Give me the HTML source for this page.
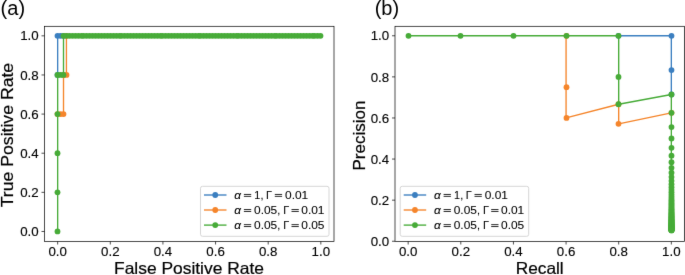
<!DOCTYPE html>
<html><head><meta charset="utf-8"><style>
html,body{margin:0;padding:0;background:#fff;}
svg{display:block;will-change:transform;}
text{font-family:"Liberation Sans", sans-serif;fill:#000;stroke:#000;stroke-width:0.2px;}
.lg text{stroke-width:0.08px;}
.tk text{stroke-width:0.12px;}
.pl{stroke-width:0;}
</style></head><body>
<svg width="685" height="275" viewBox="0 0 685 275">
<defs><filter id="bl" x="0" y="0" width="685" height="275" filterUnits="userSpaceOnUse" color-interpolation-filters="sRGB"><feConvolveMatrix order="3" kernelMatrix="0.00524 0.06192 0.00524 0.06192 0.73137 0.06192 0.00524 0.06192 0.00524" divisor="1" edgeMode="duplicate" preserveAlpha="true"/></filter></defs>
<g filter="url(#bl)">
<rect width="685" height="275" fill="#fff"/>
<text class="pl" x="0.6" y="14.5" font-size="20">(a)</text>
<text class="pl" x="374.7" y="14.5" font-size="20">(b)</text>
<g clip-path="url(#ca)">
<polyline points="57.66,74.96 57.66,35.83 60.58,35.83 63.51,35.83" fill="none" stroke="#3b7fc0" stroke-width="1.35" stroke-linejoin="round" stroke-linecap="butt"/>
<circle cx="57.50" cy="74.96" r="2.9" fill="#3b7fc0"/>
<circle cx="57.50" cy="35.83" r="2.9" fill="#3b7fc0"/>
<circle cx="60.50" cy="35.83" r="2.9" fill="#3b7fc0"/>
<circle cx="63.50" cy="35.83" r="2.9" fill="#3b7fc0"/>
<polyline points="57.66,114.09 60.58,114.09 63.51,114.09 63.51,74.96 66.43,74.96 66.43,35.83" fill="none" stroke="#f5852b" stroke-width="1.35" stroke-linejoin="round" stroke-linecap="butt"/>
<circle cx="57.50" cy="114.09" r="2.9" fill="#f5852b"/>
<circle cx="60.50" cy="114.09" r="2.9" fill="#f5852b"/>
<circle cx="63.50" cy="114.09" r="2.9" fill="#f5852b"/>
<circle cx="63.50" cy="74.96" r="2.9" fill="#f5852b"/>
<circle cx="66.50" cy="74.96" r="2.9" fill="#f5852b"/>
<circle cx="66.50" cy="35.83" r="2.9" fill="#f5852b"/>
<polyline points="57.66,231.47 57.66,192.34 57.66,153.21 57.66,114.09 57.66,74.96 60.58,74.96 63.51,74.96 63.51,35.83 66.43,35.83 69.36,35.83 72.28,35.83 75.20,35.83 78.13,35.83 81.05,35.83 83.98,35.83 86.90,35.83 89.83,35.83 92.75,35.83 95.67,35.83 98.60,35.83 101.52,35.83 104.45,35.83 107.37,35.83 110.30,35.83 113.22,35.83 116.14,35.83 119.07,35.83 121.99,35.83 124.92,35.83 127.84,35.83 130.77,35.83 133.69,35.83 136.61,35.83 139.54,35.83 142.46,35.83 145.39,35.83 148.31,35.83 151.23,35.83 154.16,35.83 157.08,35.83 160.01,35.83 162.93,35.83 165.86,35.83 168.78,35.83 171.70,35.83 174.63,35.83 177.55,35.83 180.48,35.83 183.40,35.83 186.33,35.83 189.25,35.83 192.17,35.83 195.10,35.83 198.02,35.83 200.95,35.83 203.87,35.83 206.80,35.83 209.72,35.83 212.64,35.83 215.57,35.83 218.49,35.83 221.42,35.83 224.34,35.83 227.27,35.83 230.19,35.83 233.11,35.83 236.04,35.83 238.96,35.83 241.89,35.83 244.81,35.83 247.73,35.83 250.66,35.83 253.58,35.83 256.51,35.83 259.43,35.83 262.36,35.83 265.28,35.83 268.20,35.83 271.13,35.83 274.05,35.83 276.98,35.83 279.90,35.83 282.83,35.83 285.75,35.83 288.67,35.83 291.60,35.83 294.52,35.83 297.45,35.83 300.37,35.83 303.30,35.83 306.22,35.83 309.14,35.83 312.07,35.83 314.99,35.83 317.92,35.83 320.84,35.83" fill="none" stroke="#47ab38" stroke-width="1.35" stroke-linejoin="round" stroke-linecap="butt"/>
<circle cx="57.50" cy="231.47" r="2.9" fill="#47ab38"/>
<circle cx="57.50" cy="192.34" r="2.9" fill="#47ab38"/>
<circle cx="57.50" cy="153.21" r="2.9" fill="#47ab38"/>
<circle cx="57.50" cy="114.09" r="2.9" fill="#47ab38"/>
<circle cx="57.50" cy="74.96" r="2.9" fill="#47ab38"/>
<circle cx="60.50" cy="74.96" r="2.9" fill="#47ab38"/>
<circle cx="63.50" cy="74.96" r="2.9" fill="#47ab38"/>
<circle cx="63.50" cy="35.83" r="2.9" fill="#47ab38"/>
<circle cx="66.50" cy="35.83" r="2.9" fill="#47ab38"/>
<circle cx="69.50" cy="35.83" r="2.9" fill="#47ab38"/>
<circle cx="72.50" cy="35.83" r="2.9" fill="#47ab38"/>
<circle cx="75.50" cy="35.83" r="2.9" fill="#47ab38"/>
<circle cx="78.50" cy="35.83" r="2.9" fill="#47ab38"/>
<circle cx="81.50" cy="35.83" r="2.9" fill="#47ab38"/>
<circle cx="83.50" cy="35.83" r="2.9" fill="#47ab38"/>
<circle cx="86.50" cy="35.83" r="2.9" fill="#47ab38"/>
<circle cx="89.50" cy="35.83" r="2.9" fill="#47ab38"/>
<circle cx="92.50" cy="35.83" r="2.9" fill="#47ab38"/>
<circle cx="95.50" cy="35.83" r="2.9" fill="#47ab38"/>
<circle cx="98.50" cy="35.83" r="2.9" fill="#47ab38"/>
<circle cx="101.50" cy="35.83" r="2.9" fill="#47ab38"/>
<circle cx="104.50" cy="35.83" r="2.9" fill="#47ab38"/>
<circle cx="107.50" cy="35.83" r="2.9" fill="#47ab38"/>
<circle cx="110.50" cy="35.83" r="2.9" fill="#47ab38"/>
<circle cx="113.50" cy="35.83" r="2.9" fill="#47ab38"/>
<circle cx="116.50" cy="35.83" r="2.9" fill="#47ab38"/>
<circle cx="119.50" cy="35.83" r="2.9" fill="#47ab38"/>
<circle cx="121.50" cy="35.83" r="2.9" fill="#47ab38"/>
<circle cx="124.50" cy="35.83" r="2.9" fill="#47ab38"/>
<circle cx="127.50" cy="35.83" r="2.9" fill="#47ab38"/>
<circle cx="130.50" cy="35.83" r="2.9" fill="#47ab38"/>
<circle cx="133.50" cy="35.83" r="2.9" fill="#47ab38"/>
<circle cx="136.50" cy="35.83" r="2.9" fill="#47ab38"/>
<circle cx="139.50" cy="35.83" r="2.9" fill="#47ab38"/>
<circle cx="142.50" cy="35.83" r="2.9" fill="#47ab38"/>
<circle cx="145.50" cy="35.83" r="2.9" fill="#47ab38"/>
<circle cx="148.50" cy="35.83" r="2.9" fill="#47ab38"/>
<circle cx="151.50" cy="35.83" r="2.9" fill="#47ab38"/>
<circle cx="154.50" cy="35.83" r="2.9" fill="#47ab38"/>
<circle cx="157.50" cy="35.83" r="2.9" fill="#47ab38"/>
<circle cx="160.50" cy="35.83" r="2.9" fill="#47ab38"/>
<circle cx="162.50" cy="35.83" r="2.9" fill="#47ab38"/>
<circle cx="165.50" cy="35.83" r="2.9" fill="#47ab38"/>
<circle cx="168.50" cy="35.83" r="2.9" fill="#47ab38"/>
<circle cx="171.50" cy="35.83" r="2.9" fill="#47ab38"/>
<circle cx="174.50" cy="35.83" r="2.9" fill="#47ab38"/>
<circle cx="177.50" cy="35.83" r="2.9" fill="#47ab38"/>
<circle cx="180.50" cy="35.83" r="2.9" fill="#47ab38"/>
<circle cx="183.50" cy="35.83" r="2.9" fill="#47ab38"/>
<circle cx="186.50" cy="35.83" r="2.9" fill="#47ab38"/>
<circle cx="189.50" cy="35.83" r="2.9" fill="#47ab38"/>
<circle cx="192.50" cy="35.83" r="2.9" fill="#47ab38"/>
<circle cx="195.50" cy="35.83" r="2.9" fill="#47ab38"/>
<circle cx="198.50" cy="35.83" r="2.9" fill="#47ab38"/>
<circle cx="200.50" cy="35.83" r="2.9" fill="#47ab38"/>
<circle cx="203.50" cy="35.83" r="2.9" fill="#47ab38"/>
<circle cx="206.50" cy="35.83" r="2.9" fill="#47ab38"/>
<circle cx="209.50" cy="35.83" r="2.9" fill="#47ab38"/>
<circle cx="212.50" cy="35.83" r="2.9" fill="#47ab38"/>
<circle cx="215.50" cy="35.83" r="2.9" fill="#47ab38"/>
<circle cx="218.50" cy="35.83" r="2.9" fill="#47ab38"/>
<circle cx="221.50" cy="35.83" r="2.9" fill="#47ab38"/>
<circle cx="224.50" cy="35.83" r="2.9" fill="#47ab38"/>
<circle cx="227.50" cy="35.83" r="2.9" fill="#47ab38"/>
<circle cx="230.50" cy="35.83" r="2.9" fill="#47ab38"/>
<circle cx="233.50" cy="35.83" r="2.9" fill="#47ab38"/>
<circle cx="236.50" cy="35.83" r="2.9" fill="#47ab38"/>
<circle cx="238.50" cy="35.83" r="2.9" fill="#47ab38"/>
<circle cx="241.50" cy="35.83" r="2.9" fill="#47ab38"/>
<circle cx="244.50" cy="35.83" r="2.9" fill="#47ab38"/>
<circle cx="247.50" cy="35.83" r="2.9" fill="#47ab38"/>
<circle cx="250.50" cy="35.83" r="2.9" fill="#47ab38"/>
<circle cx="253.50" cy="35.83" r="2.9" fill="#47ab38"/>
<circle cx="256.50" cy="35.83" r="2.9" fill="#47ab38"/>
<circle cx="259.50" cy="35.83" r="2.9" fill="#47ab38"/>
<circle cx="262.50" cy="35.83" r="2.9" fill="#47ab38"/>
<circle cx="265.50" cy="35.83" r="2.9" fill="#47ab38"/>
<circle cx="268.50" cy="35.83" r="2.9" fill="#47ab38"/>
<circle cx="271.50" cy="35.83" r="2.9" fill="#47ab38"/>
<circle cx="274.50" cy="35.83" r="2.9" fill="#47ab38"/>
<circle cx="276.50" cy="35.83" r="2.9" fill="#47ab38"/>
<circle cx="279.50" cy="35.83" r="2.9" fill="#47ab38"/>
<circle cx="282.50" cy="35.83" r="2.9" fill="#47ab38"/>
<circle cx="285.50" cy="35.83" r="2.9" fill="#47ab38"/>
<circle cx="288.50" cy="35.83" r="2.9" fill="#47ab38"/>
<circle cx="291.50" cy="35.83" r="2.9" fill="#47ab38"/>
<circle cx="294.50" cy="35.83" r="2.9" fill="#47ab38"/>
<circle cx="297.50" cy="35.83" r="2.9" fill="#47ab38"/>
<circle cx="300.50" cy="35.83" r="2.9" fill="#47ab38"/>
<circle cx="303.50" cy="35.83" r="2.9" fill="#47ab38"/>
<circle cx="306.50" cy="35.83" r="2.9" fill="#47ab38"/>
<circle cx="309.50" cy="35.83" r="2.9" fill="#47ab38"/>
<circle cx="312.50" cy="35.83" r="2.9" fill="#47ab38"/>
<circle cx="314.50" cy="35.83" r="2.9" fill="#47ab38"/>
<circle cx="317.50" cy="35.83" r="2.9" fill="#47ab38"/>
<circle cx="320.50" cy="35.83" r="2.9" fill="#47ab38"/>
</g>
<g clip-path="url(#cb)">
<polyline points="618.70,35.78 671.34,35.78 671.34,70.03 671.34,94.49" fill="none" stroke="#3b7fc0" stroke-width="1.35" stroke-linejoin="round" stroke-linecap="butt"/>
<circle cx="618.50" cy="35.78" r="2.9" fill="#3b7fc0"/>
<circle cx="671.50" cy="35.78" r="2.9" fill="#3b7fc0"/>
<circle cx="671.50" cy="70.03" r="2.9" fill="#3b7fc0"/>
<circle cx="671.50" cy="94.49" r="2.9" fill="#3b7fc0"/>
<polyline points="566.07,35.78 566.07,87.15 566.07,117.97 618.70,104.27 618.70,123.84 671.34,112.83" fill="none" stroke="#f5852b" stroke-width="1.35" stroke-linejoin="round" stroke-linecap="butt"/>
<circle cx="566.50" cy="35.78" r="2.9" fill="#f5852b"/>
<circle cx="566.50" cy="87.15" r="2.9" fill="#f5852b"/>
<circle cx="566.50" cy="117.97" r="2.9" fill="#f5852b"/>
<circle cx="618.50" cy="104.27" r="2.9" fill="#f5852b"/>
<circle cx="618.50" cy="123.84" r="2.9" fill="#f5852b"/>
<circle cx="671.50" cy="112.83" r="2.9" fill="#f5852b"/>
<polyline points="408.16,35.78 460.80,35.78 513.43,35.78 566.07,35.78 618.70,35.78 618.70,76.88 618.70,104.27 671.34,94.49 671.34,112.83 671.34,127.10 671.34,138.52 671.34,147.86 671.34,155.64 671.34,162.22 671.34,167.87 671.34,172.76 671.34,177.04 671.34,180.82 671.34,184.18 671.34,187.18 671.34,189.88 671.34,192.33 671.34,194.55 671.34,196.58 671.34,198.44 671.34,200.16 671.34,201.74 671.34,203.20 671.34,204.56 671.34,205.82 671.34,207.01 671.34,208.11 671.34,209.15 671.34,210.12 671.34,211.03 671.34,211.90 671.34,212.71 671.34,213.48 671.34,214.21 671.34,214.91 671.34,215.57 671.34,216.19 671.34,216.79 671.34,217.36 671.34,217.90 671.34,218.42 671.34,218.92 671.34,219.39 671.34,219.85 671.34,220.28 671.34,220.70 671.34,221.11 671.34,221.49 671.34,221.87 671.34,222.23 671.34,222.57 671.34,222.90 671.34,223.23 671.34,223.54 671.34,223.84 671.34,224.13 671.34,224.41 671.34,224.68 671.34,224.94 671.34,225.20 671.34,225.44 671.34,225.68 671.34,225.92 671.34,226.14 671.34,226.36 671.34,226.57 671.34,226.78 671.34,226.98 671.34,227.18 671.34,227.37 671.34,227.55 671.34,227.73 671.34,227.91 671.34,228.08 671.34,228.25 671.34,228.41 671.34,228.57 671.34,228.72 671.34,228.87 671.34,229.02 671.34,229.16 671.34,229.30 671.34,229.44 671.34,229.58 671.34,229.71 671.34,229.84 671.34,229.96 671.34,230.08 671.34,230.20 671.34,230.32 671.34,230.44" fill="none" stroke="#47ab38" stroke-width="1.35" stroke-linejoin="round" stroke-linecap="butt"/>
<circle cx="408.50" cy="35.78" r="2.9" fill="#47ab38"/>
<circle cx="460.50" cy="35.78" r="2.9" fill="#47ab38"/>
<circle cx="513.50" cy="35.78" r="2.9" fill="#47ab38"/>
<circle cx="566.50" cy="35.78" r="2.9" fill="#47ab38"/>
<circle cx="618.50" cy="35.78" r="2.9" fill="#47ab38"/>
<circle cx="618.50" cy="76.88" r="2.9" fill="#47ab38"/>
<circle cx="618.50" cy="104.27" r="2.9" fill="#47ab38"/>
<circle cx="671.50" cy="94.49" r="2.9" fill="#47ab38"/>
<circle cx="671.50" cy="112.83" r="2.9" fill="#47ab38"/>
<circle cx="671.50" cy="127.10" r="2.9" fill="#47ab38"/>
<circle cx="671.50" cy="138.52" r="2.9" fill="#47ab38"/>
<circle cx="671.50" cy="147.86" r="2.9" fill="#47ab38"/>
<circle cx="671.50" cy="155.64" r="2.9" fill="#47ab38"/>
<circle cx="671.50" cy="162.22" r="2.9" fill="#47ab38"/>
<circle cx="671.50" cy="167.87" r="2.9" fill="#47ab38"/>
<circle cx="671.50" cy="172.76" r="2.9" fill="#47ab38"/>
<circle cx="671.50" cy="177.04" r="2.9" fill="#47ab38"/>
<circle cx="671.50" cy="180.82" r="2.9" fill="#47ab38"/>
<circle cx="671.50" cy="184.18" r="2.9" fill="#47ab38"/>
<circle cx="671.50" cy="187.18" r="2.9" fill="#47ab38"/>
<circle cx="671.50" cy="189.88" r="2.9" fill="#47ab38"/>
<circle cx="671.50" cy="192.33" r="2.9" fill="#47ab38"/>
<circle cx="671.50" cy="194.55" r="2.9" fill="#47ab38"/>
<circle cx="671.50" cy="196.58" r="2.9" fill="#47ab38"/>
<circle cx="671.50" cy="198.44" r="2.9" fill="#47ab38"/>
<circle cx="671.50" cy="200.16" r="2.9" fill="#47ab38"/>
<circle cx="671.50" cy="201.74" r="2.9" fill="#47ab38"/>
<circle cx="671.50" cy="203.20" r="2.9" fill="#47ab38"/>
<circle cx="671.50" cy="204.56" r="2.9" fill="#47ab38"/>
<circle cx="671.50" cy="205.82" r="2.9" fill="#47ab38"/>
<circle cx="671.50" cy="207.01" r="2.9" fill="#47ab38"/>
<circle cx="671.50" cy="208.11" r="2.9" fill="#47ab38"/>
<circle cx="671.50" cy="209.15" r="2.9" fill="#47ab38"/>
<circle cx="671.50" cy="210.12" r="2.9" fill="#47ab38"/>
<circle cx="671.50" cy="211.03" r="2.9" fill="#47ab38"/>
<circle cx="671.50" cy="211.90" r="2.9" fill="#47ab38"/>
<circle cx="671.50" cy="212.71" r="2.9" fill="#47ab38"/>
<circle cx="671.50" cy="213.48" r="2.9" fill="#47ab38"/>
<circle cx="671.50" cy="214.21" r="2.9" fill="#47ab38"/>
<circle cx="671.50" cy="214.91" r="2.9" fill="#47ab38"/>
<circle cx="671.50" cy="215.57" r="2.9" fill="#47ab38"/>
<circle cx="671.50" cy="216.19" r="2.9" fill="#47ab38"/>
<circle cx="671.50" cy="216.79" r="2.9" fill="#47ab38"/>
<circle cx="671.50" cy="217.36" r="2.9" fill="#47ab38"/>
<circle cx="671.50" cy="217.90" r="2.9" fill="#47ab38"/>
<circle cx="671.50" cy="218.42" r="2.9" fill="#47ab38"/>
<circle cx="671.50" cy="218.92" r="2.9" fill="#47ab38"/>
<circle cx="671.50" cy="219.39" r="2.9" fill="#47ab38"/>
<circle cx="671.50" cy="219.85" r="2.9" fill="#47ab38"/>
<circle cx="671.50" cy="220.28" r="2.9" fill="#47ab38"/>
<circle cx="671.50" cy="220.70" r="2.9" fill="#47ab38"/>
<circle cx="671.50" cy="221.11" r="2.9" fill="#47ab38"/>
<circle cx="671.50" cy="221.49" r="2.9" fill="#47ab38"/>
<circle cx="671.50" cy="221.87" r="2.9" fill="#47ab38"/>
<circle cx="671.50" cy="222.23" r="2.9" fill="#47ab38"/>
<circle cx="671.50" cy="222.57" r="2.9" fill="#47ab38"/>
<circle cx="671.50" cy="222.90" r="2.9" fill="#47ab38"/>
<circle cx="671.50" cy="223.23" r="2.9" fill="#47ab38"/>
<circle cx="671.50" cy="223.54" r="2.9" fill="#47ab38"/>
<circle cx="671.50" cy="223.84" r="2.9" fill="#47ab38"/>
<circle cx="671.50" cy="224.13" r="2.9" fill="#47ab38"/>
<circle cx="671.50" cy="224.41" r="2.9" fill="#47ab38"/>
<circle cx="671.50" cy="224.68" r="2.9" fill="#47ab38"/>
<circle cx="671.50" cy="224.94" r="2.9" fill="#47ab38"/>
<circle cx="671.50" cy="225.20" r="2.9" fill="#47ab38"/>
<circle cx="671.50" cy="225.44" r="2.9" fill="#47ab38"/>
<circle cx="671.50" cy="225.68" r="2.9" fill="#47ab38"/>
<circle cx="671.50" cy="225.92" r="2.9" fill="#47ab38"/>
<circle cx="671.50" cy="226.14" r="2.9" fill="#47ab38"/>
<circle cx="671.50" cy="226.36" r="2.9" fill="#47ab38"/>
<circle cx="671.50" cy="226.57" r="2.9" fill="#47ab38"/>
<circle cx="671.50" cy="226.78" r="2.9" fill="#47ab38"/>
<circle cx="671.50" cy="226.98" r="2.9" fill="#47ab38"/>
<circle cx="671.50" cy="227.18" r="2.9" fill="#47ab38"/>
<circle cx="671.50" cy="227.37" r="2.9" fill="#47ab38"/>
<circle cx="671.50" cy="227.55" r="2.9" fill="#47ab38"/>
<circle cx="671.50" cy="227.73" r="2.9" fill="#47ab38"/>
<circle cx="671.50" cy="227.91" r="2.9" fill="#47ab38"/>
<circle cx="671.50" cy="228.08" r="2.9" fill="#47ab38"/>
<circle cx="671.50" cy="228.25" r="2.9" fill="#47ab38"/>
<circle cx="671.50" cy="228.41" r="2.9" fill="#47ab38"/>
<circle cx="671.50" cy="228.57" r="2.9" fill="#47ab38"/>
<circle cx="671.50" cy="228.72" r="2.9" fill="#47ab38"/>
<circle cx="671.50" cy="228.87" r="2.9" fill="#47ab38"/>
<circle cx="671.50" cy="229.02" r="2.9" fill="#47ab38"/>
<circle cx="671.50" cy="229.16" r="2.9" fill="#47ab38"/>
<circle cx="671.50" cy="229.30" r="2.9" fill="#47ab38"/>
<circle cx="671.50" cy="229.44" r="2.9" fill="#47ab38"/>
<circle cx="671.50" cy="229.58" r="2.9" fill="#47ab38"/>
<circle cx="671.50" cy="229.71" r="2.9" fill="#47ab38"/>
<circle cx="671.50" cy="229.84" r="2.9" fill="#47ab38"/>
<circle cx="671.50" cy="229.96" r="2.9" fill="#47ab38"/>
<circle cx="671.50" cy="230.08" r="2.9" fill="#47ab38"/>
<circle cx="671.50" cy="230.20" r="2.9" fill="#47ab38"/>
<circle cx="671.50" cy="230.32" r="2.9" fill="#47ab38"/>
<circle cx="671.50" cy="230.44" r="2.9" fill="#47ab38"/>
</g>
<defs>
<clipPath id="ca"><rect x="44.5" y="26.3" width="289.5" height="215.2"/></clipPath>
<clipPath id="cb"><rect x="395.0" y="26.3" width="289.5" height="215.2"/></clipPath>
</defs>
<rect x="44.50" y="26.30" width="289.50" height="215.20" fill="none" stroke="#000" stroke-width="0.7"/>
<line x1="57.66" y1="241.50" x2="57.66" y2="244.50" stroke="#000" stroke-width="0.7"/>
<line x1="41.50" y1="231.47" x2="44.50" y2="231.47" stroke="#000" stroke-width="0.7"/>
<line x1="110.30" y1="241.50" x2="110.30" y2="244.50" stroke="#000" stroke-width="0.7"/>
<line x1="41.50" y1="192.34" x2="44.50" y2="192.34" stroke="#000" stroke-width="0.7"/>
<line x1="162.93" y1="241.50" x2="162.93" y2="244.50" stroke="#000" stroke-width="0.7"/>
<line x1="41.50" y1="153.21" x2="44.50" y2="153.21" stroke="#000" stroke-width="0.7"/>
<line x1="215.57" y1="241.50" x2="215.57" y2="244.50" stroke="#000" stroke-width="0.7"/>
<line x1="41.50" y1="114.09" x2="44.50" y2="114.09" stroke="#000" stroke-width="0.7"/>
<line x1="268.20" y1="241.50" x2="268.20" y2="244.50" stroke="#000" stroke-width="0.7"/>
<line x1="41.50" y1="74.96" x2="44.50" y2="74.96" stroke="#000" stroke-width="0.7"/>
<line x1="320.84" y1="241.50" x2="320.84" y2="244.50" stroke="#000" stroke-width="0.7"/>
<line x1="41.50" y1="35.83" x2="44.50" y2="35.83" stroke="#000" stroke-width="0.7"/>
<rect x="395.00" y="26.30" width="289.50" height="215.20" fill="none" stroke="#000" stroke-width="0.7"/>
<line x1="408.16" y1="241.50" x2="408.16" y2="244.50" stroke="#000" stroke-width="0.7"/>
<line x1="392.00" y1="241.25" x2="395.00" y2="241.25" stroke="#000" stroke-width="0.7"/>
<line x1="460.80" y1="241.50" x2="460.80" y2="244.50" stroke="#000" stroke-width="0.7"/>
<line x1="392.00" y1="200.16" x2="395.00" y2="200.16" stroke="#000" stroke-width="0.7"/>
<line x1="513.43" y1="241.50" x2="513.43" y2="244.50" stroke="#000" stroke-width="0.7"/>
<line x1="392.00" y1="159.06" x2="395.00" y2="159.06" stroke="#000" stroke-width="0.7"/>
<line x1="566.07" y1="241.50" x2="566.07" y2="244.50" stroke="#000" stroke-width="0.7"/>
<line x1="392.00" y1="117.97" x2="395.00" y2="117.97" stroke="#000" stroke-width="0.7"/>
<line x1="618.70" y1="241.50" x2="618.70" y2="244.50" stroke="#000" stroke-width="0.7"/>
<line x1="392.00" y1="76.88" x2="395.00" y2="76.88" stroke="#000" stroke-width="0.7"/>
<line x1="671.34" y1="241.50" x2="671.34" y2="244.50" stroke="#000" stroke-width="0.7"/>
<line x1="392.00" y1="35.78" x2="395.00" y2="35.78" stroke="#000" stroke-width="0.7"/>
<g class="tk" font-size="12.4">
<text x="48.41" y="256.3" textLength="18.50" lengthAdjust="spacingAndGlyphs">0.0</text>
<text x="20.20" y="236.11" textLength="18.50" lengthAdjust="spacingAndGlyphs">0.0</text>
<text x="101.05" y="256.3" textLength="18.50" lengthAdjust="spacingAndGlyphs">0.2</text>
<text x="20.20" y="196.98" textLength="18.50" lengthAdjust="spacingAndGlyphs">0.2</text>
<text x="153.68" y="256.3" textLength="18.50" lengthAdjust="spacingAndGlyphs">0.4</text>
<text x="20.20" y="157.85" textLength="18.50" lengthAdjust="spacingAndGlyphs">0.4</text>
<text x="206.32" y="256.3" textLength="18.50" lengthAdjust="spacingAndGlyphs">0.6</text>
<text x="20.20" y="118.73" textLength="18.50" lengthAdjust="spacingAndGlyphs">0.6</text>
<text x="258.95" y="256.3" textLength="18.50" lengthAdjust="spacingAndGlyphs">0.8</text>
<text x="20.20" y="79.60" textLength="18.50" lengthAdjust="spacingAndGlyphs">0.8</text>
<text x="311.59" y="256.3" textLength="18.50" lengthAdjust="spacingAndGlyphs">1.0</text>
<text x="20.20" y="40.47" textLength="18.50" lengthAdjust="spacingAndGlyphs">1.0</text>
<text x="398.91" y="256.3" textLength="18.50" lengthAdjust="spacingAndGlyphs">0.0</text>
<text x="370.70" y="245.89" textLength="18.50" lengthAdjust="spacingAndGlyphs">0.0</text>
<text x="451.55" y="256.3" textLength="18.50" lengthAdjust="spacingAndGlyphs">0.2</text>
<text x="370.70" y="204.80" textLength="18.50" lengthAdjust="spacingAndGlyphs">0.2</text>
<text x="504.18" y="256.3" textLength="18.50" lengthAdjust="spacingAndGlyphs">0.4</text>
<text x="370.70" y="163.70" textLength="18.50" lengthAdjust="spacingAndGlyphs">0.4</text>
<text x="556.82" y="256.3" textLength="18.50" lengthAdjust="spacingAndGlyphs">0.6</text>
<text x="370.70" y="122.61" textLength="18.50" lengthAdjust="spacingAndGlyphs">0.6</text>
<text x="609.45" y="256.3" textLength="18.50" lengthAdjust="spacingAndGlyphs">0.8</text>
<text x="370.70" y="81.52" textLength="18.50" lengthAdjust="spacingAndGlyphs">0.8</text>
<text x="662.09" y="256.3" textLength="18.50" lengthAdjust="spacingAndGlyphs">1.0</text>
<text x="370.70" y="40.42" textLength="18.50" lengthAdjust="spacingAndGlyphs">1.0</text>
</g>
<g class="lg" font-size="10.8">
<rect x="200.50" y="186.30" width="128.5" height="50.0" rx="2" ry="2" fill="#fff" fill-opacity="0.8" stroke="#d6d6d6" stroke-width="1"/>
<line x1="204.00" y1="195.0" x2="226.50" y2="195.0" stroke="#3b7fc0" stroke-width="1.35"/>
<circle cx="215.25" cy="195.0" r="2.9" fill="#3b7fc0"/>
<text x="234.30" y="198.9" font-style="italic" textLength="6.8" lengthAdjust="spacingAndGlyphs">α</text>
<path d="M243.90,194.45h7.3M243.90,196.35h7.3" stroke="#000" stroke-width="0.85" fill="none"/>
<text x="254.20" y="198.9" textLength="6.0" lengthAdjust="spacingAndGlyphs">1</text>
<text x="260.60" y="198.9">,</text>
<text x="266.00" y="198.9" textLength="6.0" lengthAdjust="spacingAndGlyphs">Γ</text>
<path d="M274.80,194.45h7.3M274.80,196.35h7.3" stroke="#000" stroke-width="0.85" fill="none"/>
<text x="285.00" y="198.9" textLength="23.2" lengthAdjust="spacingAndGlyphs">0.01</text>
<line x1="204.00" y1="210.0" x2="226.50" y2="210.0" stroke="#f5852b" stroke-width="1.35"/>
<circle cx="215.25" cy="210.0" r="2.9" fill="#f5852b"/>
<text x="234.30" y="214.0" font-style="italic" textLength="6.8" lengthAdjust="spacingAndGlyphs">α</text>
<path d="M243.90,209.55h7.3M243.90,211.45h7.3" stroke="#000" stroke-width="0.85" fill="none"/>
<text x="254.00" y="214.0" textLength="23.2" lengthAdjust="spacingAndGlyphs">0.05</text>
<text x="277.20" y="214.0">,</text>
<text x="283.20" y="214.0" textLength="6.0" lengthAdjust="spacingAndGlyphs">Γ</text>
<path d="M291.50,209.55h7.3M291.50,211.45h7.3" stroke="#000" stroke-width="0.85" fill="none"/>
<text x="301.30" y="214.0" textLength="23.2" lengthAdjust="spacingAndGlyphs">0.01</text>
<line x1="204.00" y1="225.1" x2="226.50" y2="225.1" stroke="#47ab38" stroke-width="1.35"/>
<circle cx="215.25" cy="225.1" r="2.9" fill="#47ab38"/>
<text x="234.30" y="229.1" font-style="italic" textLength="6.8" lengthAdjust="spacingAndGlyphs">α</text>
<path d="M243.90,224.65h7.3M243.90,226.55h7.3" stroke="#000" stroke-width="0.85" fill="none"/>
<text x="254.00" y="229.1" textLength="23.2" lengthAdjust="spacingAndGlyphs">0.05</text>
<text x="277.20" y="229.1">,</text>
<text x="283.20" y="229.1" textLength="6.0" lengthAdjust="spacingAndGlyphs">Γ</text>
<path d="M291.50,224.65h7.3M291.50,226.55h7.3" stroke="#000" stroke-width="0.85" fill="none"/>
<text x="301.30" y="229.1" textLength="23.2" lengthAdjust="spacingAndGlyphs">0.05</text>
<rect x="400.20" y="186.30" width="128.5" height="50.0" rx="2" ry="2" fill="#fff" fill-opacity="0.8" stroke="#d6d6d6" stroke-width="1"/>
<line x1="403.70" y1="195.0" x2="426.20" y2="195.0" stroke="#3b7fc0" stroke-width="1.35"/>
<circle cx="414.95" cy="195.0" r="2.9" fill="#3b7fc0"/>
<text x="434.00" y="198.9" font-style="italic" textLength="6.8" lengthAdjust="spacingAndGlyphs">α</text>
<path d="M443.60,194.45h7.3M443.60,196.35h7.3" stroke="#000" stroke-width="0.85" fill="none"/>
<text x="453.90" y="198.9" textLength="6.0" lengthAdjust="spacingAndGlyphs">1</text>
<text x="460.30" y="198.9">,</text>
<text x="465.70" y="198.9" textLength="6.0" lengthAdjust="spacingAndGlyphs">Γ</text>
<path d="M474.50,194.45h7.3M474.50,196.35h7.3" stroke="#000" stroke-width="0.85" fill="none"/>
<text x="484.70" y="198.9" textLength="23.2" lengthAdjust="spacingAndGlyphs">0.01</text>
<line x1="403.70" y1="210.0" x2="426.20" y2="210.0" stroke="#f5852b" stroke-width="1.35"/>
<circle cx="414.95" cy="210.0" r="2.9" fill="#f5852b"/>
<text x="434.00" y="214.0" font-style="italic" textLength="6.8" lengthAdjust="spacingAndGlyphs">α</text>
<path d="M443.60,209.55h7.3M443.60,211.45h7.3" stroke="#000" stroke-width="0.85" fill="none"/>
<text x="453.70" y="214.0" textLength="23.2" lengthAdjust="spacingAndGlyphs">0.05</text>
<text x="476.90" y="214.0">,</text>
<text x="482.90" y="214.0" textLength="6.0" lengthAdjust="spacingAndGlyphs">Γ</text>
<path d="M491.20,209.55h7.3M491.20,211.45h7.3" stroke="#000" stroke-width="0.85" fill="none"/>
<text x="501.00" y="214.0" textLength="23.2" lengthAdjust="spacingAndGlyphs">0.01</text>
<line x1="403.70" y1="225.1" x2="426.20" y2="225.1" stroke="#47ab38" stroke-width="1.35"/>
<circle cx="414.95" cy="225.1" r="2.9" fill="#47ab38"/>
<text x="434.00" y="229.1" font-style="italic" textLength="6.8" lengthAdjust="spacingAndGlyphs">α</text>
<path d="M443.60,224.65h7.3M443.60,226.55h7.3" stroke="#000" stroke-width="0.85" fill="none"/>
<text x="453.70" y="229.1" textLength="23.2" lengthAdjust="spacingAndGlyphs">0.05</text>
<text x="476.90" y="229.1">,</text>
<text x="482.90" y="229.1" textLength="6.0" lengthAdjust="spacingAndGlyphs">Γ</text>
<path d="M491.20,224.65h7.3M491.20,226.55h7.3" stroke="#000" stroke-width="0.85" fill="none"/>
<text x="501.00" y="229.1" textLength="23.2" lengthAdjust="spacingAndGlyphs">0.05</text>
</g>
<g font-size="16.5">
<text x="114.0" y="273.8" textLength="150" lengthAdjust="spacingAndGlyphs">False Positive Rate</text>
<text x="515.7" y="273.8" textLength="48" lengthAdjust="spacingAndGlyphs">Recall</text>
<text transform="translate(12.6,207.3) rotate(-90)" x="0" y="0" textLength="144.5" lengthAdjust="spacingAndGlyphs">True Positive Rate</text>
<text transform="translate(364.9,170.6) rotate(-90)" x="0" y="0" textLength="70" lengthAdjust="spacingAndGlyphs">Precision</text>
</g>
</g>
</svg>
</body></html>
